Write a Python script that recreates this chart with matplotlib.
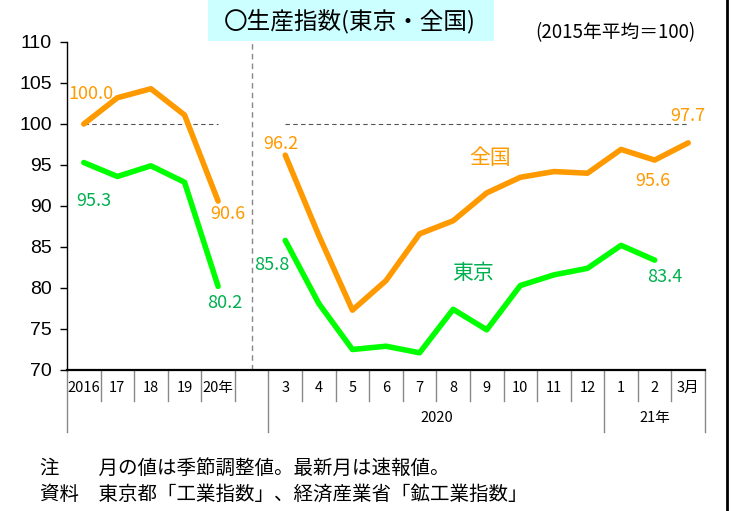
import matplotlib
matplotlib.use('Agg')
import matplotlib.pyplot as plt
import matplotlib.transforms as mtransforms
from matplotlib.patches import Rectangle
from matplotlib.lines import Line2D

plt.rcParams['font.family'] = ['Noto Sans CJK JP', 'DejaVu Sans']

# ---- data ----
slot_labels = ['2016', '17', '18', '19', '20年', '', '3', '4', '5', '6', '7', '8',
               '9', '10', '11', '12', '1', '2', '3月']
zenkoku_annual = [100.0, 103.2, 104.3, 101.1, 90.6]
tokyo_annual = [95.3, 93.6, 94.9, 92.9, 80.2]
zenkoku_monthly = [96.2, 86.4, 77.3, 80.9, 86.6, 88.2, 91.6, 93.5, 94.2, 94.0, 96.9, 95.6, 97.7]
tokyo_monthly = [85.8, 78.1, 72.5, 72.9, 72.1, 77.4, 74.9, 80.3, 81.6, 82.4, 85.2, 83.4]
year_groups = ['2020', '21年']
title = '〇生産指数(東京・全国)'
unit = '(2015年平均＝100)'
note1 = '注　　月の値は季節調整値。最新月は速報値。'
note2 = '資料　東京都「工業指数」、経済産業省「鉱工業指数」'

ORANGE = '#FF9900'
GREEN_LINE = '#00FF00'
GREEN_TXT = '#00B050'

fig = plt.figure(figsize=(7.31, 5.11), dpi=100)
ax = fig.add_axes([67/731, 1-370/511, (705-67)/731, 328/511])

xa = list(range(len(zenkoku_annual)))
xm = list(range(6, 6 + len(zenkoku_monthly)))
xmt = xm[:len(tokyo_monthly)]

lw = 4.0
style = dict(lw=lw, solid_capstyle='round', solid_joinstyle='round', zorder=3)
ax.plot(xa, zenkoku_annual, color=ORANGE, **style)
ax.plot(xa, tokyo_annual, color=GREEN_LINE, **style)
ax.plot(xm, zenkoku_monthly, color=ORANGE, **style)
ax.plot(xmt, tokyo_monthly, color=GREEN_LINE, **style)

# reference lines at 100
ax.plot([xa[0], xa[-1]], [100, 100], color='#555555', lw=0.8, ls=(0, (4, 3)), zorder=1)
ax.plot([xm[0], xm[-1]], [100, 100], color='#555555', lw=0.8, ls=(0, (4, 3)), zorder=1)
# separator
ax.plot([5, 5], [70, 110], color='#888888', lw=1.0, ls=(0, (4, 3)), zorder=1)

ax.set_xlim(-0.5, len(slot_labels) - 0.5)
ax.set_ylim(70, 110)
ax.set_yticks(range(70, 111, 5))
ax.tick_params(axis='y', labelsize=14, length=5, width=1, direction='out', pad=6)
for t in ax.get_yticklabels():
    t.set_family(['Liberation Sans', 'DejaVu Sans'])
ax.set_xticks([])
for s in ['top', 'right']:
    ax.spines[s].set_visible(False)
ax.spines['left'].set_linewidth(1.0)
ax.spines['bottom'].set_linewidth(1.6)

# data labels
fs = 13
def lab(x, y, color, dx, dy, text=None):
    ax.annotate(text if text else f'{y:.1f}', (x, y), xytext=(dx, dy),
                textcoords='offset pixels', ha='center', va='center',
                color=color, fontsize=fs, zorder=4)

lab(xa[0], zenkoku_annual[0], ORANGE, 7, 30)
lab(xa[0], tokyo_annual[0], GREEN_TXT, 10, -38)
lab(xa[-1], zenkoku_annual[-1], ORANGE, 10, -13)
lab(xa[-1], tokyo_annual[-1], GREEN_TXT, 7, -17)
lab(xm[0], zenkoku_monthly[0], ORANGE, -4, 11)
lab(xm[0], tokyo_monthly[0], GREEN_TXT, -13, -25)
lab(xm[-1], zenkoku_monthly[-1], ORANGE, 0, 27)
lab(xm[-2], zenkoku_monthly[-2], ORANGE, -2, -21)
lab(xmt[-1], tokyo_monthly[-1], GREEN_TXT, 10, -17)
ax.text(12.1, 95.9, '全国', color=ORANGE, fontsize=15, ha='center', va='center')
ax.text(11.6, 81.8, '東京', color=GREEN_TXT, fontsize=15, ha='center', va='center')

# custom category axis
trans = mtransforms.blended_transform_factory(ax.transData, ax.transAxes)
long_b = {-0.5, 5.5, 15.5, len(slot_labels) - 0.5}
for k in range(len(slot_labels) + 1):
    b = k - 0.5
    y1 = -0.189 if b in long_b else -0.0945
    ax.add_line(Line2D([b, b], [0, y1], transform=trans, color='#888888', lw=1.0, clip_on=False))
for i, t in enumerate(slot_labels):
    if t:
        ax.text(i, -0.055, t, transform=trans, ha='center', va='center', fontsize=10.5)
ax.text(10.5, -0.146, year_groups[0], transform=trans, ha='center', va='center', fontsize=10.5)
ax.text(17.0, -0.146, year_groups[1], transform=trans, ha='center', va='center', fontsize=10.5)

# title box
fig.patches.append(Rectangle((208/731, 1-41/511), 286/731, 41/511, transform=fig.transFigure,
                             facecolor='#CCFFFF', edgecolor='none', zorder=0))
fig.text(350/731, 1-21/511, title, ha='center', va='center', fontsize=17)
fig.text(615/731, 1-33/511, unit, ha='center', va='center', fontsize=13.5)

fig.text(40/731, 1-468/511, note1, ha='left', va='center', fontsize=14)
fig.text(40/731, 1-494/511, note2, ha='left', va='center', fontsize=14)

# right border
fig.add_artist(Line2D([727/731, 727/731], [0, 1], transform=fig.transFigure, color='black', lw=2))

fig.savefig('out.png', dpi=100)
